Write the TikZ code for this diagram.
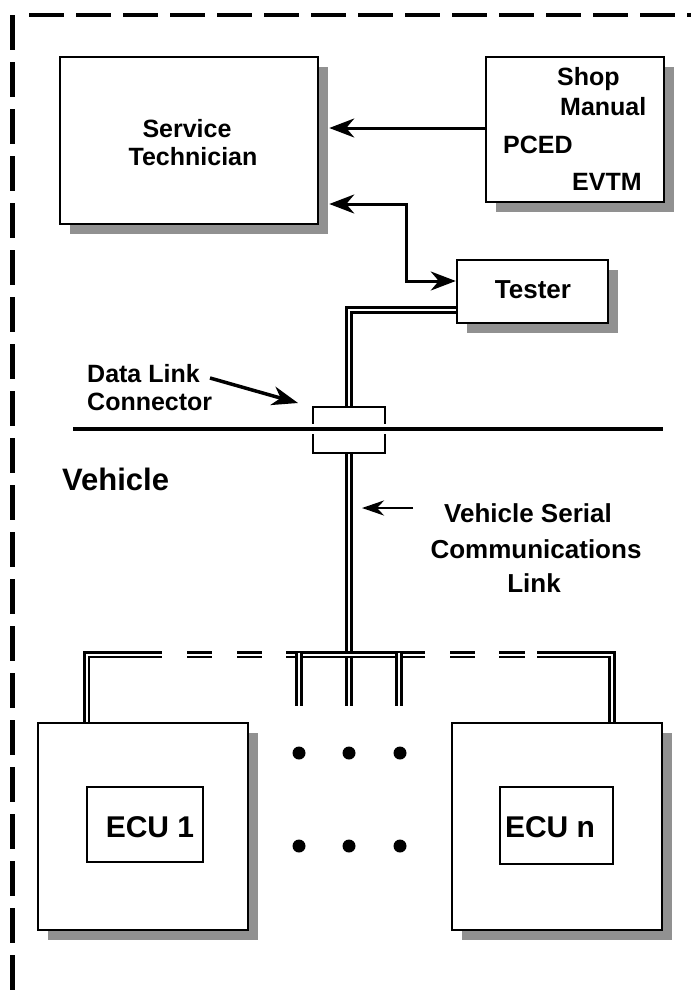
\documentclass[tikz,border=0pt]{standalone}
\usepackage{fontspec}
\setmainfont{Liberation Sans}
\usetikzlibrary{arrows.meta,shadows,calc}
\definecolor{shadowgray}{RGB}{145,145,145}
\newcommand\myfs[1]{\fontsize{#1}{#1}\selectfont\bfseries}
\pgfdeclarelayer{bg}
\pgfsetlayers{bg,main}
\begin{document}
\begin{tikzpicture}[x=1pt,y=-1pt,
  sbox/.style={draw,line width=2.5pt,fill=white,rectangle,inner sep=0pt,
    drop shadow={shadow xshift=10pt,shadow yshift=-10pt,fill=shadowgray,opacity=1}},
  ibox/.style={draw,line width=2pt,fill=white,rectangle,inner sep=0pt},
  txt/.style={inner sep=0pt,font=\myfs{25}},
  frame/.style={line width=4.5pt,dash pattern=on 35pt off 12pt},
  dbl/.style={double,line width=2.6pt,double distance=2pt},
  bigarr/.style={line width=3pt,-{Stealth[length=25pt,width=19pt,inset=8pt]}},
  botharr/.style={line width=3pt,{Stealth[length=25pt,width=19pt,inset=8pt]}-{Stealth[length=25pt,width=19pt,inset=8pt]}},
  dlarr/.style={line width=3.5pt,-{Stealth[length=26pt,width=19pt,inset=8pt]}},
  vsarr/.style={line width=2.8pt,-{Stealth[length=22pt,width=15pt,inset=7pt]}},
  dot/.style={circle,fill=black,inner sep=0pt,minimum size=13pt}]
\useasboundingbox (0,0) rectangle (691,991);
\clip (0,0) rectangle (691,991);
\begin{pgfonlayer}{bg}
\fill[white] (0,0) rectangle (691,991);
\end{pgfonlayer}
% dashed frame
\draw[frame] (12.5,15) -- (12.5,1000);
\draw[frame] (29,15) -- (700,15);

% boxes
\node[sbox,minimum width=258pt,minimum height=167pt] (svc) at (189,140.5) {};
\node[txt,anchor=base] (svc1) at (187,137) {Service};
\node[txt,anchor=base] (svc2) at (193,165) {Technician};

\node[sbox,minimum width=178pt,minimum height=145pt] (shop) at (575,129.5) {};
\node[txt,anchor=base west] (shop1) at (557,85) {Shop};
\node[txt,anchor=base west] (shop2) at (560,115) {Manual};
\node[txt,anchor=base west] (pced) at (503,153) {PCED};
\node[txt,anchor=base west] (evtm) at (572,190) {EVTM};

\node[sbox,minimum width=151pt,minimum height=63pt] (tester) at (532.5,291.5) {};
\node[txt,font=\myfs{26},anchor=base] (testert) at (533,298) {Tester};

\node[sbox,minimum width=210pt,minimum height=207pt] (ecu1) at (143,826.5) {};
\node[ibox,minimum width=116pt,minimum height=75pt] (ecu1in) at (145,824.5) {};
\node[txt,font=\myfs{30},anchor=base] (ecu1t) at (150,837) {ECU 1};

\node[sbox,minimum width=210pt,minimum height=207pt] (ecun) at (557,826.5) {};
\node[ibox,minimum width=113pt,minimum height=77pt] (ecunin) at (556.5,825.5) {};
\node[txt,font=\myfs{30},anchor=base] (ecunt) at (550,837) {ECU n};

% connector box
\node[ibox,line width=2.5pt,minimum width=72pt,minimum height=46pt] (dlc) at (349,430) {};

% serial link lines (behind boxes)
\begin{pgfonlayer}{bg}
\draw[dbl] (tester.west |- 0,310) -- (349,310) -- (349,706);
\draw[dbl] (ecu1.north -| 86.5,0) -- (86.5,654.5) -- (162,654.5);
\draw[dbl] (187,654.5) -- (212,654.5);
\draw[dbl] (237,654.5) -- (262,654.5);
\draw[dbl] (286,654.5) -- (425,654.5);
\draw[dbl] (450,654.5) -- (475,654.5);
\draw[dbl] (499,654.5) -- (525,654.5);
\draw[dbl] (537,654.5) -- (612,654.5) -- (ecun.north -| 612,0);
\draw[dbl] (299,652.5) -- (299,706);
\draw[dbl] (399,652.5) -- (399,706);
\end{pgfonlayer}

% vehicle boundary line
\draw[white,line width=10pt] (305,429) -- (393,429);
\draw[line width=4pt] (73,429) -- (663,429);

% arrows
\coordinate (svcsh) at ([xshift=10pt]svc.east);
\draw[bigarr] (shop.west |- 0,128) -- (svcsh |- 0,128);
\draw[botharr] (svcsh |- 0,204) -- (406,204) -- (406,281) -- (tester.west |- 0,281);

% labels
\node[txt,anchor=base west] (dl1) at (87,382) {Data Link};
\node[txt,anchor=base west] (dl2) at (87,410) {Connector};
\coordinate (dlfrom) at (210,378);
\coordinate (dlto) at (298,403);
\draw[dlarr] (dlfrom) -- (dlto);

\node[txt,font=\myfs{31},anchor=base west] (veh) at (62,490) {Vehicle};

\node[txt,font=\myfs{26},anchor=base] (vs1) at (528,522) {Vehicle Serial};
\node[txt,font=\myfs{26},anchor=base] (vs2) at (536,558) {Communications};
\node[txt,font=\myfs{26},anchor=base] (vs3) at (534,592) {Link};
\coordinate (vsfrom) at (413,508);
\coordinate (vsto) at (362,508);
\draw[vsarr] (vsfrom) -- (vsto);

% dots
\node[dot] (d1) at (299,753) {};
\node[dot] (d2) at (349,753) {};
\node[dot] (d3) at (400,753) {};
\node[dot] (d4) at (299,846) {};
\node[dot] (d5) at (349,846) {};
\node[dot] (d6) at (400,846) {};
\end{tikzpicture}
\end{document}
